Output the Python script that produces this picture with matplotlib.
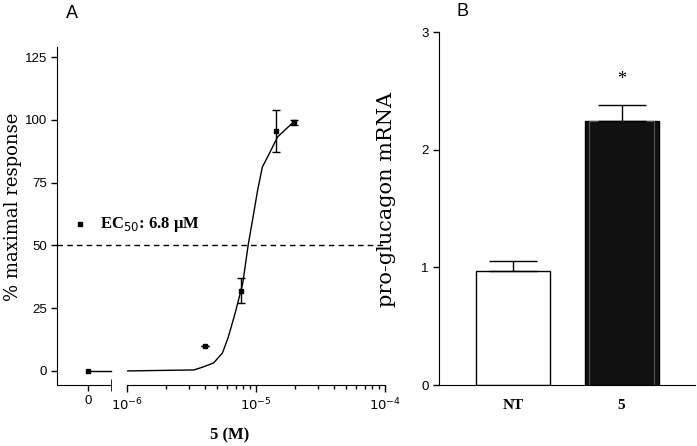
import matplotlib
matplotlib.use("Agg")
import matplotlib.pyplot as plt
import numpy as np

# Panel A: dose response of compound 5 (concentrations in M)
zero_resp = 0.0
conc = np.array([4.0e-6, 7.6e-6, 14.4e-6, 19.6e-6])
resp = np.array([10.0, 32.0, 95.5, 99.0])
resp_err = np.array([0.0, 5.0, 8.5, 1.0])

# fitted curve
fit_conc = np.array([1.0, 3.3, 3.9, 4.7, 5.5, 6.1, 6.9, 7.9, 8.7, 9.4,
                     10.3, 11.2, 12.3, 14.7, 19.6]) * 1e-6
fit_resp = np.array([0.0, 0.4, 1.6, 3.2, 7.2, 13.5, 23.1, 35.0, 50.2, 60.1,
                     72.0, 81.2, 85.2, 93.2, 99.2])

# Panel B: pro-glucagon mRNA
groups = ["NT", "5"]
mrna = [0.97, 2.24]
mrna_err = [0.085, 0.14]

W, H = 697, 446
fig = plt.figure(figsize=(W / 100, H / 100), dpi=100)

def box(x0, x1, ytop, ybot):
    return [x0 / W, 1 - ybot / H, (x1 - x0) / W, (ybot - ytop) / H]

tick_font = dict(family="Liberation Sans", size=9.5)
serif_bold = dict(family="Liberation Serif", weight="bold")

# ---- panel A, broken x axis ----
ax0 = fig.add_axes(box(57, 111, 47, 385))
ax1 = fig.add_axes(box(127, 385, 47, 385))
ax1.patch.set_alpha(0)
ylim = (-5.6, 129)
for ax in (ax0, ax1):
    ax.set_ylim(*ylim)
    ax.spines["top"].set_visible(False)
    ax.spines["right"].set_visible(False)
ax0.axhline(50, xmin=0, xmax=(127 - 57) / 54, color="black", lw=1,
            ls=(0, (4, 3)), clip_on=False)
ax1.axhline(50, color="black", lw=1, ls=(2, (4, 3)))
ax1.spines["left"].set_visible(False)
ax1.tick_params(axis="y", left=False, labelleft=False)

ax0.set_xlim(-0.574, 0.426)
ax0.set_xticks([0])
ax0.set_xticklabels(["0"], **tick_font)
ax0.set_xticks([0.426], minor=True)
ax0.tick_params(axis="x", which="minor", direction="inout", length=8)
ax0.set_yticks([0, 25, 50, 75, 100, 125])
ax0.set_yticklabels(["0", "25", "50", "75", "100", "125"], **tick_font)
ax0.tick_params(axis="both", which="major", length=4, width=1, pad=3)
ax0.plot([0], [zero_resp], "s", color="black", ms=2.5)
ax0.plot([0, 0.426], [zero_resp, zero_resp], color="black", lw=1, clip_on=False)

ax1.set_xscale("log")
ax1.set_xlim(1e-6, 1e-4)
ax1.set_xticks([1e-6, 1e-5, 1e-4])
ax1.set_xticklabels([r"$10^{-6}$", r"$10^{-5}$", r"$10^{-4}$"], **tick_font)
ax1.tick_params(axis="x", which="major", length=5, width=1, direction="out")
ax1.tick_params(axis="x", which="minor", length=3, width=1)
ax1.plot(fit_conc, fit_resp, color="black", lw=1)
ax1.errorbar(conc, resp, yerr=resp_err, fmt="s", color="black", ms=2.5,
             capsize=3, elinewidth=1, capthick=1)

# EC50 legend
ax0.plot([-0.148], [58.5], "s", color="black", ms=2.5, clip_on=False)
ax0.text(0.222, 58.5, r"EC$_{50}$: 6.8 μM", va="center", ha="left",
         fontsize=12, clip_on=False, zorder=5, **serif_bold)

fig.text(13 / W, 1 - 207 / H, "% maximal response", rotation=90,
         ha="center", va="center", family="DejaVu Serif", size=13)
fig.text(230 / W, 1 - 435 / H, "5 (M)", ha="center", va="center",
         fontsize=12, **serif_bold)
fig.text(72 / W, 1 - 14 / H, "A", ha="center", va="center",
         family="Liberation Sans", size=13)

# ---- panel B ----
axb = fig.add_axes(box(439, 695, 32, 385))
x = np.arange(len(groups))
axb.bar(x, mrna, width=0.682, color=["white", "#111111"], edgecolor="black",
        lw=1)
axb.bar(x[1:], mrna[1:], width=0.6, color="none", edgecolor="#555555", lw=0.8)
for xi, m, e in zip(x, mrna, mrna_err):
    axb.errorbar([xi], [m], yerr=[[0], [e]], fmt="none", ecolor="black",
                 capsize=17, elinewidth=1, capthick=1)
axb.text(x[1], mrna[1] + mrna_err[1] + 0.22, "*", ha="center", va="center",
         family="Liberation Serif", size=13)
axb.set_xlim(-0.682, 1.677)
axb.set_ylim(0, 3)
axb.set_yticks([0, 1, 2, 3])
axb.set_yticklabels(["0", "1", "2", "3"], **tick_font)
axb.set_xticks(x)
axb.set_xticklabels(groups, fontsize=11, **serif_bold)
axb.tick_params(axis="x", length=0, pad=10)
axb.tick_params(axis="y", length=4, width=1)
axb.spines["top"].set_visible(False)
axb.spines["right"].set_visible(False)
axb.set_ylabel("pro-glucagon mRNA", family="DejaVu Serif", size=15)
axb.yaxis.set_label_coords((396 - 439) / 256, 0.527)
fig.text(462 / W, 1 - 12 / H, "B", ha="center", va="center",
         family="Liberation Sans", size=13)

fig.savefig("out.png", dpi=100)
